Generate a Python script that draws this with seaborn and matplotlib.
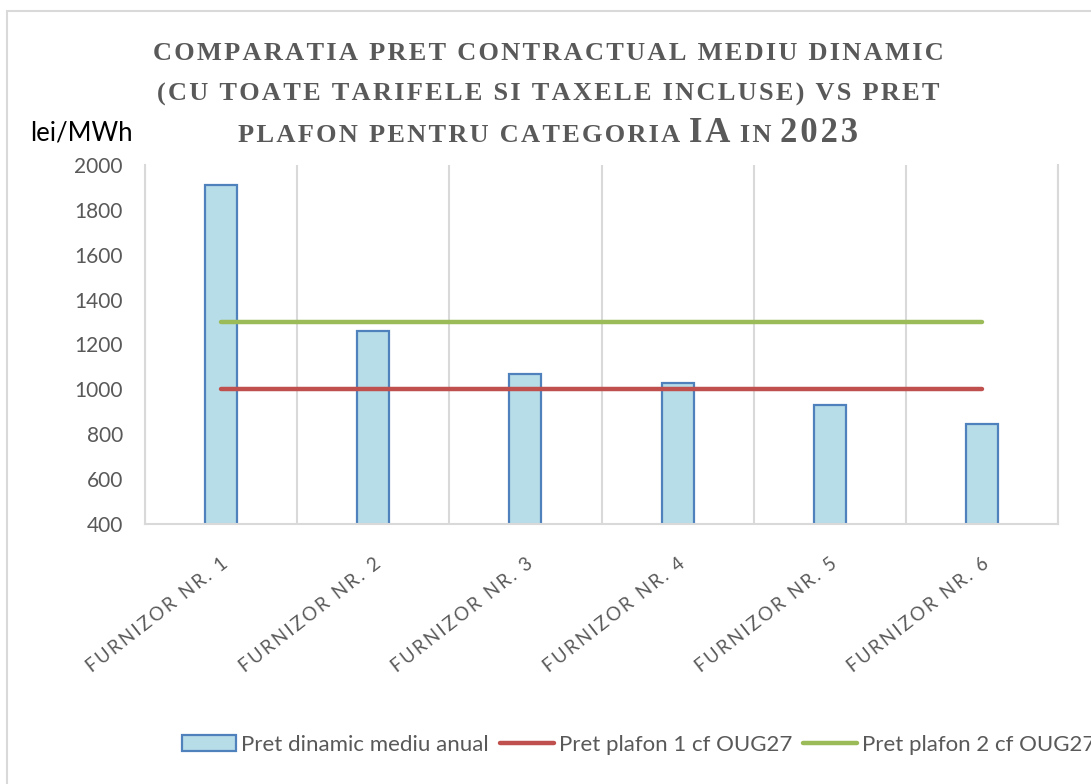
import matplotlib
matplotlib.use("Agg")
import matplotlib.pyplot as plt
import seaborn as sns
import pandas as pd
from matplotlib.patches import Rectangle
from matplotlib.lines import Line2D
from matplotlib.offsetbox import TextArea, HPacker, AnnotationBbox

# datele graficului
furnizori = ["FURNIZOR NR. 1", "FURNIZOR NR. 2", "FURNIZOR NR. 3",
             "FURNIZOR NR. 4", "FURNIZOR NR. 5", "FURNIZOR NR. 6"]
pret_dinamic = [1912, 1262, 1070, 1027, 930, 846]
plafon_1 = [1000, 1000, 1000, 1000, 1000, 1000]
plafon_2 = [1300, 1300, 1300, 1300, 1300, 1300]
y_ticks = [400, 600, 800, 1000, 1200, 1400, 1600, 1800, 2000]

df = pd.DataFrame({"furnizor": furnizori, "pret": pret_dinamic,
                   "plafon1": plafon_1, "plafon2": plafon_2})

sns.set_theme(style="white")
plt.rcParams["font.family"] = ["Lato", "DejaVu Sans"]

GRI = "#595959"
GRID = "#d9d9d9"


def spatiat(s, sep="\u200a\u200a"):
    # spatiere intre litere, ca in Excel
    return sep.join(list(s))


fig = plt.figure(figsize=(10.91, 7.84), dpi=100)
ax = fig.add_axes([145 / 1091, 1 - 524 / 784, (1058 - 145) / 1091, (524 - 165) / 784])

sns.barplot(data=df, x="furnizor", y="pret", ax=ax, width=0.21,
            color="#B7DDE8", edgecolor="#4F81BD", linewidth=1.6, saturation=1)
sns.lineplot(data=df, x="furnizor", y="plafon1", ax=ax, sort=False,
             color="#C0504D", linewidth=3.2, solid_capstyle="round")
sns.lineplot(data=df, x="furnizor", y="plafon2", ax=ax, sort=False,
             color="#9BBB59", linewidth=3.2, solid_capstyle="round")

ax.set_ylim(400, 2000)
ax.set_xlim(-0.5, len(furnizori) - 0.5)
ax.set_yticks(y_ticks)
ax.set_yticklabels([str(v) for v in y_ticks], color=GRI, fontsize=15)
ax.set_xticks(range(len(furnizori)))
ax.set_xticklabels([spatiat(f) for f in furnizori], rotation=38,
                   ha="right", rotation_mode="anchor", color=GRI, fontsize=13.5)
ax.set_xlabel("")
ax.set_ylabel("")
ax.tick_params(axis="y", length=0, pad=16)
ax.tick_params(axis="x", length=0, pad=22)

# linii verticale intre categorii
ax.set_xticks([i - 0.5 for i in range(len(furnizori) + 1)], minor=True)
ax.grid(False)
ax.grid(True, axis="x", which="minor", color=GRID, linewidth=1.5)
ax.tick_params(axis="x", which="minor", length=0)
for side in ["left", "right", "bottom"]:
    ax.spines[side].set_color(GRID)
    ax.spines[side].set_linewidth(1.5)
ax.spines["top"].set_visible(False)

fig.text(30 / 1091, 1 - 133 / 784, "lei/MWh", fontsize=18.5, color="black",
         va="center", ha="left")

# titlu in stil small caps
serif = ["Liberation Serif", "DejaVu Serif"]
mic = dict(fontsize=19, fontweight="bold", color=GRI, family=serif)
mare = dict(fontsize=25, fontweight="bold", color=GRI, family=serif)
fig.text(0.5025, 1 - 53 / 784, spatiat("COMPARATIA PRET CONTRACTUAL MEDIU DINAMIC", "\u200a"),
         ha="center", va="center", **mic)
fig.text(0.5025, 1 - 94 / 784, spatiat("(CU TOATE TARIFELE SI TAXELE INCLUSE) VS PRET", "\u200a"),
         ha="center", va="center", **mic)
parti = [("PLAFON PENTRU CATEGORIA ", mic), ("IA", mare), (" IN ", mic), ("2023", mare)]
pack = HPacker(children=[TextArea(spatiat(t, "\u200a"), textprops=p) for t, p in parti],
               align="baseline", pad=0, sep=0)
fig.add_artist(AnnotationBbox(pack, (0.5025, 1 - 133 / 784), xycoords="figure fraction",
                              frameon=False, box_alignment=(0.5, 0.5)))

# legenda (taiata la dreapta, ca in original)
handles = [Rectangle((0, 0), 1, 1, facecolor="#B7DDE8", edgecolor="#4F81BD", linewidth=1.6),
           Line2D([], [], color="#C0504D", linewidth=3.2),
           Line2D([], [], color="#9BBB59", linewidth=3.2)]
labels = ["Pret dinamic mediu anual", "Pret plafon 1 cf OUG27", "Pret plafon 2 cf OUG27"]
leg = fig.legend(handles, labels, loc="center left", bbox_to_anchor=(182 / 1091, 1 - 745 / 784),
                 ncol=3, frameon=False, fontsize=16, handlelength=2.45, handletextpad=0.2,
                 columnspacing=0.5, borderaxespad=0, borderpad=0)
for t in leg.get_texts():
    t.set_color(GRI)

# chenarul graficului
fig.add_artist(Rectangle((7 / 1091, -0.05), 1.1, 1 - 11 / 784 + 0.05, transform=fig.transFigure,
                         fill=False, edgecolor=GRID, linewidth=1.5))

fig.savefig("out.png", dpi=100)
